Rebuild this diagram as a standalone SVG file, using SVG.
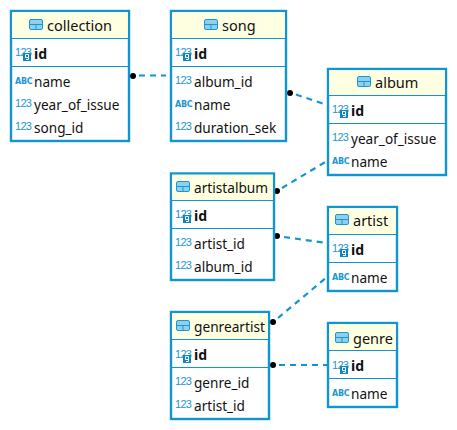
<svg xmlns="http://www.w3.org/2000/svg" width="457" height="430" viewBox="0 0 457 430">
<style>
.box{fill:#fff;stroke:#0f95cf;stroke-width:2.4}
.hd{fill:#ffffe1}
.ln{stroke:#0f95cf;stroke-width:1;fill:none}
text{font-family:"Noto Sans","Open Sans","Liberation Sans",sans-serif;font-size:13.6px;fill:#111}
.b{font-weight:700;font-size:14px}
.t{font-size:14.5px}
.n{font-size:11px;letter-spacing:-.7px;fill:#1d97d3;font-family:"Liberation Sans",sans-serif}
.a{font-size:8px;letter-spacing:-.3px;font-weight:700;fill:#1d97d3;font-family:"DejaVu Sans",sans-serif}
.c{stroke:#0f95cf;stroke-width:2.2;stroke-dasharray:6 5;fill:none}
</style>
<defs>
<g id="tb"><rect x="0.500" y="0.500" width="13" height="10" rx="1.500" fill="#8fd0ee" stroke="#1d97d3"/><path d="M1 5.500H13M7 5.500V10.500" stroke="#1d97d3" fill="none"/></g>
<g id="kb"><rect width="8" height="8" fill="#0f86c0"/><path d="M2.500 1.500H5.500V4.500H2.500ZM5.500 4.500V6.500H3" stroke="#fff" fill="none"/></g>
</defs>
<g id="connectors">
<path class="c" d="M139 75.500L166 75.500"/>
<path class="c" d="M296 94.500L327 105"/>
<path class="c" d="M282 188L327 161"/>
<path class="c" d="M284 237L327 243"/>
<path class="c" d="M278 318L327 277"/>
<path class="c" d="M279 365L327 365"/>
<g fill="#000"><circle cx="133" cy="76" r="3"/><circle cx="290" cy="93" r="3"/><circle cx="277" cy="191" r="3"/><circle cx="277" cy="236" r="3"/><circle cx="273" cy="322" r="3"/><circle cx="273" cy="365" r="3"/></g>
</g>
<g id="collection">
<rect class="box" x="11" y="11" width="118" height="130"/><rect class="hd" x="12.200" y="12.200" width="115.600" height="26"/>
<path class="ln" d="M12 38.500H128M12 66.500H128"/>
<use href="#tb" x="29" y="19"/><text class="t" x="47" y="31">collection</text>
<text class="n" x="15" y="56">123</text><use href="#kb" x="23" y="53"/><text class="b" x="34" y="59">id</text>
<text class="a" x="15" y="84">ABC</text><text x="34" y="87">name</text>
<text class="n" x="15" y="107">123</text><text x="34" y="110">year_of_issue</text>
<text class="n" x="15" y="130">123</text><text x="34" y="133">song_id</text>
</g>
<g id="song">
<rect class="box" x="171" y="11" width="115" height="130"/><rect class="hd" x="172.200" y="12.200" width="112.600" height="26"/>
<path class="ln" d="M172 38.500H285M172 66.500H285"/>
<use href="#tb" x="204" y="19"/><text class="t" x="222" y="31">song</text>
<text class="n" x="175" y="56">123</text><use href="#kb" x="183" y="53"/><text class="b" x="194" y="59">id</text>
<text class="n" x="175" y="84">123</text><text x="194" y="87">album_id</text>
<text class="a" x="175" y="107">ABC</text><text x="194" y="110">name</text>
<text class="n" x="175" y="130">123</text><text x="194" y="133">duration_sek</text>
</g>
<g id="album">
<rect class="box" x="328" y="69" width="118" height="106"/><rect class="hd" x="329.200" y="70.200" width="115.600" height="25"/>
<path class="ln" d="M329 95.500H445M329 123.500H445"/>
<use href="#tb" x="357" y="76"/><text class="t" x="375" y="88">album</text>
<text class="n" x="332" y="113">123</text><use href="#kb" x="340" y="110"/><text class="b" x="351" y="116">id</text>
<text class="n" x="332" y="141">123</text><text x="351" y="144">year_of_issue</text>
<text class="a" x="332" y="164">ABC</text><text x="351" y="167">name</text>
</g>
<g id="artistalbum">
<rect class="box" x="171" y="173.500" width="103" height="106.500"/><rect class="hd" x="172.200" y="174.700" width="100.600" height="25"/>
<path class="ln" d="M172 200.500H273M172 228.500H273"/>
<use href="#tb" x="176" y="181"/><text class="t" x="194" y="193" textLength="74" lengthAdjust="spacingAndGlyphs">artistalbum</text>
<text class="n" x="175" y="218">123</text><use href="#kb" x="183" y="215"/><text class="b" x="194" y="221">id</text>
<text class="n" x="175" y="246">123</text><text x="194" y="249">artist_id</text>
<text class="n" x="175" y="269">123</text><text x="194" y="272">album_id</text>
</g>
<g id="artist">
<rect class="box" x="328" y="207" width="69" height="84"/><rect class="hd" x="329.200" y="208.200" width="66.600" height="26"/>
<path class="ln" d="M329 234.500H396M329 262.500H396"/>
<use href="#tb" x="335" y="214"/><text class="t" x="353" y="226">artist</text>
<text class="n" x="332" y="252">123</text><use href="#kb" x="340" y="249"/><text class="b" x="351" y="255">id</text>
<text class="a" x="332" y="280">ABC</text><text x="351" y="283">name</text>
</g>
<g id="genreartist">
<rect class="box" x="171" y="312" width="98" height="107"/><rect class="hd" x="172.200" y="313.200" width="95.600" height="26"/>
<path class="ln" d="M172 339.500H268M172 367.500H268"/>
<use href="#tb" x="176" y="320"/><text class="t" x="194" y="332" textLength="71" lengthAdjust="spacingAndGlyphs">genreartist</text>
<text class="n" x="175" y="358">123</text><use href="#kb" x="183" y="355"/><text class="b" x="194" y="360">id</text>
<text class="n" x="175" y="385">123</text><text x="194" y="388">genre_id</text>
<text class="n" x="175" y="408">123</text><text x="194" y="411">artist_id</text>
</g>
<g id="genre">
<rect class="box" x="328" y="323" width="69" height="84"/><rect class="hd" x="329.200" y="324.200" width="66.600" height="26"/>
<path class="ln" d="M329 350.500H396M329 378.500H396"/>
<use href="#tb" x="335" y="332"/><text class="t" x="353" y="344">genre</text>
<text class="n" x="332" y="369">123</text><use href="#kb" x="340" y="366"/><text class="b" x="351" y="371">id</text>
<text class="a" x="332" y="396">ABC</text><text x="351" y="399">name</text>
</g>
</svg>
